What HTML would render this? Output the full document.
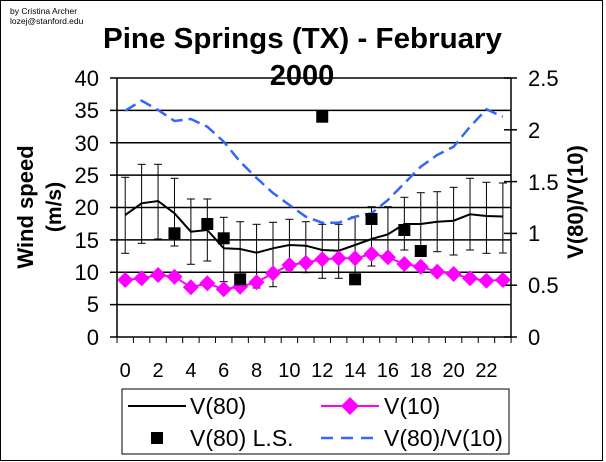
<!DOCTYPE html>
<html><head><style>
body{margin:0;background:#fff}
svg{display:block}
text{font-family:"Liberation Sans",Arial,sans-serif}
</style></head><body>
<svg width="606" height="462" viewBox="0 0 606 462" xmlns="http://www.w3.org/2000/svg">
<rect x="0.5" y="0.5" width="602" height="460" fill="#fff" stroke="#000" stroke-width="1"/>
<text x="10" y="14" font-size="8.5">by Cristina Archer</text>
<text x="10" y="24" font-size="8.5">lozej@stanford.edu</text>
<text x="103" y="48" font-size="29" font-weight="bold" textLength="399" lengthAdjust="spacingAndGlyphs">Pine Springs (TX) - February</text>
<text x="302" y="85" font-size="29" font-weight="bold" text-anchor="middle">2000</text>
<g stroke="#000" stroke-width="1.5">
<line x1="110" y1="78" x2="511" y2="78"/><line x1="110" y1="110.4" x2="511" y2="110.4"/><line x1="110" y1="142.8" x2="511" y2="142.8"/><line x1="110" y1="175.1" x2="511" y2="175.1"/><line x1="110" y1="207.5" x2="511" y2="207.5"/><line x1="110" y1="239.9" x2="511" y2="239.9"/><line x1="110" y1="272.3" x2="511" y2="272.3"/><line x1="110" y1="304.6" x2="511" y2="304.6"/><line x1="110" y1="337" x2="511" y2="337"/>
<line x1="117" y1="78" x2="117" y2="337"/><line x1="511" y1="78" x2="511" y2="337"/>
</g>
<g stroke="#000" stroke-width="1" id="xt"></g>
<g stroke="#000" stroke-width="1.5">
<line x1="504" y1="78" x2="517" y2="78"/><line x1="504" y1="129.8" x2="517" y2="129.8"/><line x1="504" y1="181.6" x2="517" y2="181.6"/><line x1="504" y1="233.4" x2="517" y2="233.4"/><line x1="504" y1="285.2" x2="517" y2="285.2"/><line x1="504" y1="337" x2="517" y2="337"/>
</g>
<g font-size="22" text-anchor="end">
<text x="99" y="86">40</text><text x="99" y="118">35</text><text x="99" y="151">30</text><text x="99" y="183">25</text><text x="99" y="215">20</text><text x="99" y="248">15</text><text x="99" y="280">10</text><text x="99" y="312">5</text><text x="99" y="345">0</text>
</g>
<g font-size="22">
<text x="528" y="86">2.5</text><text x="528" y="138">2</text><text x="528" y="190">1.5</text><text x="528" y="241">1</text><text x="528" y="293">0.5</text><text x="528" y="345">0</text>
</g>
<g font-size="20" text-anchor="middle" id="xl"></g>
<text transform="translate(33,207) rotate(-90)" font-size="22" font-weight="bold" text-anchor="middle">Wind speed</text>
<text transform="translate(61,207) rotate(-90)" font-size="21" font-weight="bold" text-anchor="middle">(m/s)</text>
<text transform="translate(583,202) rotate(-90)" font-size="22" font-weight="bold" text-anchor="middle">V(80)/V(10)</text>
<g id="eb" stroke="#000" stroke-width="1"></g>
<polyline id="bl" fill="none" stroke="#3366ff" stroke-width="2.5" stroke-dasharray="12,6"/>
<polyline id="k" fill="none" stroke="#000" stroke-width="2"/>
<polyline id="m" fill="none" stroke="#ff00ff" stroke-width="2"/>
<g id="md" fill="#ff00ff"></g>
<g id="sq" fill="#000"></g>
<rect x="122" y="389" width="387" height="65" fill="#fff" stroke="#000" stroke-width="1"/>
<line x1="128" y1="406" x2="186" y2="406" stroke="#000" stroke-width="2"/>
<text x="190" y="414" font-size="23">V(80)</text>
<line x1="321" y1="406" x2="379" y2="406" stroke="#ff00ff" stroke-width="2"/>
<polygon points="350,397 359,406 350,415 341,406" fill="#ff00ff"/>
<text x="384" y="414" font-size="23">V(10)</text>
<rect x="151" y="432" width="12" height="12" fill="#000"/>
<text x="190" y="446" font-size="23">V(80) L.S.</text>
<line x1="321" y1="438" x2="379" y2="438" stroke="#3366ff" stroke-width="2.5" stroke-dasharray="12,8"/>
<text x="384" y="446" font-size="23">V(80)/V(10)</text>
</svg>
<script>
var NS="http://www.w3.org/2000/svg";
function X(i){return 117+16.42*(i+0.5);}
function el(p,t,a){var e=document.createElementNS(NS,t);for(var k in a)e.setAttribute(k,a[k]);document.getElementById(p).appendChild(e);return e;}
for(var i=0;i<=24;i++){var x=117+16.42*i;el("xt","line",{x1:x,y1:337,x2:x,y2:343});}
for(var i=0;i<=22;i+=2){var t=el("xl","text",{x:X(i),y:377});t.textContent=i;}
var k=[215,203.3,201,213.3,231.7,230,248.3,249,252.7,248.3,245,245.7,250,250.7,245,239,234.3,224,224,221.7,220.7,214.3,216,216.5];
var et=[177.3,164.3,164.3,178.3,199,199,217.3,221.7,224.3,222.3,219.3,221.7,224.3,224.3,216.7,206.7,206.7,197.3,192.7,191.7,187.3,178.3,182.3,183];
var eb=[253.3,243.3,239,246,264.3,261,281.7,286.7,288,286.7,270,272.7,278.3,278.3,276.7,266,256.7,250,256,251.7,255,250,253.3,253];
var m=[280,278.3,275,276.7,287.3,283.3,289.3,286.7,282.3,273.3,265,262.7,259.3,258.3,258.3,254,257.3,264,266.7,271.7,274,278.3,280.7,280];
var b=[110.7,100.7,110,121,119,126.7,141.7,161.7,178,193,205,216.7,222.7,222.7,216.7,213.3,200,183.3,166.7,155,146.7,126.7,109.3,116.7];
var s=[[3,233.3],[5,224],[6,238.3],[7,279.3],[12,116.7],[14,279.3],[15,219],[17,230],[18,251]];
function pts(a){return a.map(function(y,i){return X(i)+","+y}).join(" ");}
for(var i=0;i<24;i++){var x=X(i);el("eb","line",{x1:x,y1:et[i],x2:x,y2:eb[i]});el("eb","line",{x1:x-4,y1:et[i],x2:x+4,y2:et[i]});el("eb","line",{x1:x-4,y1:eb[i],x2:x+4,y2:eb[i]});
el("md","polygon",{points:x+","+(m[i]-8)+" "+(x+8)+","+m[i]+" "+x+","+(m[i]+8)+" "+(x-8)+","+m[i]});}
document.getElementById("bl").setAttribute("points",pts(b));
document.getElementById("k").setAttribute("points",pts(k));
document.getElementById("m").setAttribute("points",pts(m));
s.forEach(function(p){el("sq","rect",{x:X(p[0])-6,y:p[1]-6,width:12,height:12});});
</script>
</body></html>
